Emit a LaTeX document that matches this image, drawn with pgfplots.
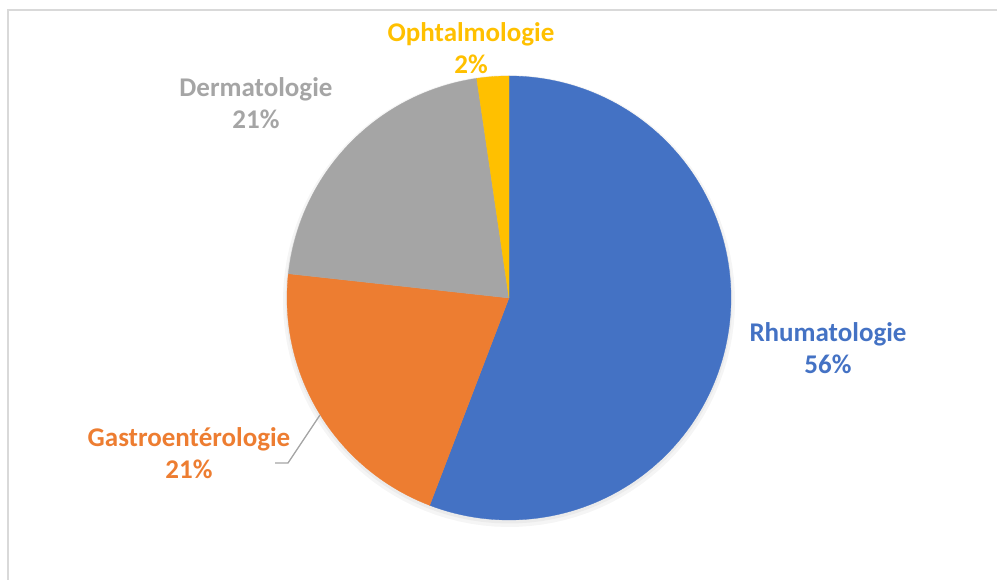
\documentclass[border=0pt]{standalone}
\usepackage{pgfplots}
\pgfplotsset{compat=1.18}
\usepackage{fontspec}
\setmainfont{Carlito}
\definecolor{cR}{HTML}{4472C4}
\definecolor{cG}{HTML}{ED7D31}
\definecolor{cD}{HTML}{A5A5A5}
\definecolor{cO}{HTML}{FFC000}
\definecolor{frame}{HTML}{D9D9D9}
% data (counts)
\def\vR{24}\def\vG{9}\def\vD{9}\def\vO{1}
\pgfmathsetmacro\tot{\vR+\vG+\vD+\vO}
\pgfmathsetmacro\aA{90}
\pgfmathsetmacro\aB{\aA-360*\vR/\tot}
\pgfmathsetmacro\aC{\aB-360*\vG/\tot}
\pgfmathsetmacro\aD{\aC-360*\vD/\tot}
\pgfmathsetmacro\aE{\aD-360*\vO/\tot}
\def\cx{509}\def\cy{282}\def\rr{222}
\begin{document}
\begin{tikzpicture}
\useasboundingbox (0,0) rectangle (997pt,580pt);
\begin{axis}[at={(0,0)}, anchor=south west, scale only axis, width=997pt, height=580pt,
  xmin=0, xmax=997, ymin=0, ymax=580, hide axis, clip=false]
\draw[frame, line width=1.5pt] (axis cs:8,-20) -- (axis cs:8,570) -- (axis cs:1200,570);
\addplot[fill=black!4, draw=none, domain=0:360, samples=120, variable=\t]
  ({\cx+(\rr+4)*cos(\t)},{\cy-3+(\rr+4)*sin(\t)});
\addplot[fill=black!8, draw=none, domain=0:360, samples=120, variable=\t]
  ({\cx+(\rr+1.5)*cos(\t)},{\cy-2+(\rr+1.5)*sin(\t)});
\addplot[fill=cR, draw=cR, line width=0.3pt, domain=\aB:\aA, samples=120, variable=\t]
  ({\cx+\rr*cos(\t)},{\cy+\rr*sin(\t)}) -- (axis cs:\cx,\cy) -- cycle;
\addplot[fill=cG, draw=cG, line width=0.3pt, domain=\aC:\aB, samples=60, variable=\t]
  ({\cx+\rr*cos(\t)},{\cy+\rr*sin(\t)}) -- (axis cs:\cx,\cy) -- cycle;
\addplot[fill=cD, draw=cD, line width=0.3pt, domain=\aD:\aC, samples=60, variable=\t]
  ({\cx+\rr*cos(\t)},{\cy+\rr*sin(\t)}) -- (axis cs:\cx,\cy) -- cycle;
\addplot[fill=cO, draw=cO, line width=0.3pt, domain=\aE:\aD, samples=10, variable=\t]
  ({\cx+\rr*cos(\t)},{\cy+\rr*sin(\t)}) -- (axis cs:\cx,\cy) -- cycle;
\draw[cD, line width=1.3pt] (axis cs:320,165) -- (axis cs:288,117) -- (axis cs:275,117);
\tikzset{lbl/.style={font=\fontsize{27}{32}\selectfont\bfseries, align=center, inner sep=0pt}}
\node[lbl, text=cO] at (axis cs:471,532) {Ophtalmologie\\2\%};
\node[lbl, text=cD] at (axis cs:256,477) {Dermatologie\\21\%};
\node[lbl, text=cR] at (axis cs:828,232) {Rhumatologie\\56\%};
\node[lbl, text=cG] at (axis cs:189,127) {Gastroentérologie\\21\%};
\end{axis}
\end{tikzpicture}
\end{document}
